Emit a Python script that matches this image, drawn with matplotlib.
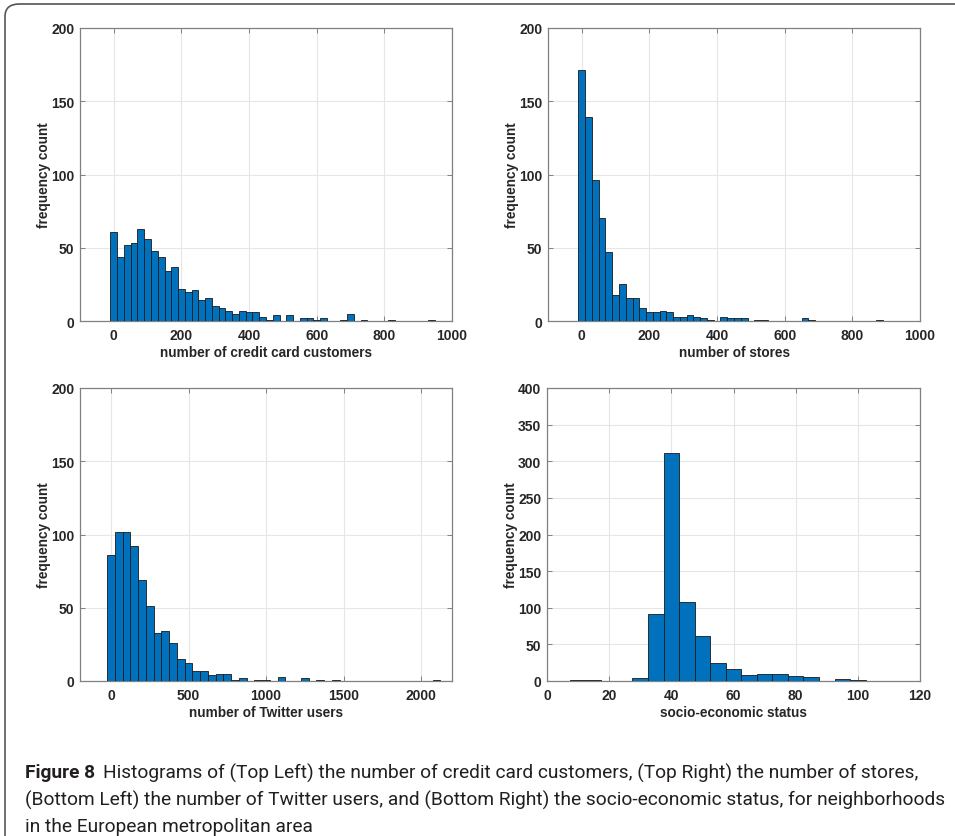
import numpy as np
import matplotlib
matplotlib.use("Agg")
from matplotlib import pyplot as plt
from matplotlib.patches import FancyBboxPatch

# counts per bin
credit_start, credit_width = -10, 20
credit_counts = [61, 44, 52, 53, 63, 56, 48, 44, 34, 37, 22, 20, 21, 14, 16, 10,
                 9, 7, 5, 7, 6, 6, 3, 1, 4, 0, 4, 0, 2, 2, 1, 2, 0, 0, 1, 5,
                 0, 1, 0, 0, 0, 1, 0, 0, 0, 0, 0, 1]

stores_start, stores_width = -10, 20
stores_counts = [171, 139, 96, 70, 47, 18, 25, 16, 16, 9, 6, 6, 7, 6, 3, 3, 4,
                 3, 2, 1, 0, 3, 2, 2, 2, 0, 1, 1, 0, 0, 0, 0, 0, 2, 1, 0, 0, 0,
                 0, 0, 0, 0, 0, 0, 1]

twitter_start, twitter_width = -25, 50
twitter_counts = [86, 102, 102, 92, 69, 51, 33, 34, 26, 15, 12, 7, 7, 4, 5, 5,
                  1, 2, 0, 1, 1, 0, 3, 0, 0, 2, 0, 1, 0, 1, 0, 0, 0, 0, 0, 0,
                  0, 0, 0, 0, 0, 0, 1]

ses_start, ses_width = 7.5, 5
ses_counts = [1, 1, 0, 0, 4, 91, 311, 108, 61, 25, 16, 8, 10, 10, 7, 5, 0, 3, 1]

W, H = 955, 837
BAR_COLOR = "#0072BD"
TEXT_COLOR = "#262626"
FONT = ["Liberation Sans", "DejaVu Sans"]

fig = plt.figure(figsize=(W / 100, H / 100), dpi=100)

# rounded frame (right and bottom run off the page)
frame = FancyBboxPatch((5 / W, -20 / H), 1.1, (H + 20 - 5) / H,
                       boxstyle="round,pad=0,rounding_size=0.015",
                       transform=fig.transFigure, fill=False,
                       edgecolor="#555555", linewidth=1.2)
fig.patches.append(frame)


def add_axes(left, top, right, bottom):
    return fig.add_axes([left / W, 1 - bottom / H, (right - left) / W, (bottom - top) / H])


panels = [
    (add_axes(80, 29, 452, 322), credit_start, credit_width, credit_counts,
     (-100, 1000), np.arange(0, 1001, 200), (0, 200), np.arange(0, 201, 50),
     "number of credit card customers"),
    (add_axes(548, 29, 920, 322), stores_start, stores_width, stores_counts,
     (-100, 1000), np.arange(0, 1001, 200), (0, 200), np.arange(0, 201, 50),
     "number of stores"),
    (add_axes(80, 389, 452, 682), twitter_start, twitter_width, twitter_counts,
     (-200, 2200), np.arange(0, 2001, 500), (0, 200), np.arange(0, 201, 50),
     "number of Twitter users"),
    (add_axes(547, 389, 920, 682), ses_start, ses_width, ses_counts,
     (0, 120), np.arange(0, 121, 20), (0, 400), np.arange(0, 401, 50),
     "socio-economic status"),
]

for ax, start, width, counts, xlim, xticks, ylim, yticks, xlabel in panels:
    counts = np.array(counts)
    lefts = start + width * np.arange(len(counts))
    keep = counts > 0
    ax.bar(lefts[keep], counts[keep], width=width, align="edge",
           color=BAR_COLOR, edgecolor="#1a1a1a", linewidth=0.6, zorder=3)
    ax.set_xlim(*xlim)
    ax.set_ylim(*ylim)
    ax.set_xticks(xticks)
    ax.set_yticks(yticks)
    ax.grid(True, color="#e6e6e6", linewidth=0.8, zorder=0)
    ax.set_axisbelow(True)
    ax.tick_params(direction="in", length=3.5, width=0.7, color="#808080",
                   top=True, right=True, labelsize=10, labelcolor=TEXT_COLOR)
    ax.tick_params(axis="x", pad=5)
    ax.tick_params(axis="y", pad=4)
    for lab in ax.get_xticklabels() + ax.get_yticklabels():
        lab.set_fontweight("bold")
        lab.set_family(FONT)
    for sp in ax.spines.values():
        sp.set_color("#808080")
        sp.set_linewidth(0.9)
    ax.set_xlabel(xlabel, fontsize=9.8, fontweight="bold", color=TEXT_COLOR,
                  family=FONT, labelpad=2)
    ax.set_ylabel("frequency count", fontsize=9.8, fontweight="bold",
                  color=TEXT_COLOR, family=FONT, labelpad=0)

# caption
cap_font = ["Roboto", "DejaVu Sans"]
cap_size = 13.8
cap_color = "#231f20"
line_y = [773, 800, 827]
x0 = 25 / W
renderer = fig.canvas.get_renderer()
t = fig.text(x0, 1 - line_y[0] / H, "Figure 8", fontsize=cap_size, fontweight="bold",
             family=cap_font, color=cap_color, va="center")
bb = t.get_window_extent(renderer)
fig.text(bb.x1 / W + 8 / W, 1 - line_y[0] / H,
         "Histograms of (Top Left) the number of credit card customers, (Top Right) the number of stores,",
         fontsize=cap_size, family=cap_font, color=cap_color, va="center")
fig.text(x0, 1 - line_y[1] / H,
         "(Bottom Left) the number of Twitter users, and (Bottom Right) the socio-economic status, for neighborhoods",
         fontsize=cap_size, family=cap_font, color=cap_color, va="center")
fig.text(x0, 1 - line_y[2] / H, "in the European metropolitan area",
         fontsize=cap_size, family=cap_font, color=cap_color, va="center")

fig.savefig("out.png", dpi=100)
